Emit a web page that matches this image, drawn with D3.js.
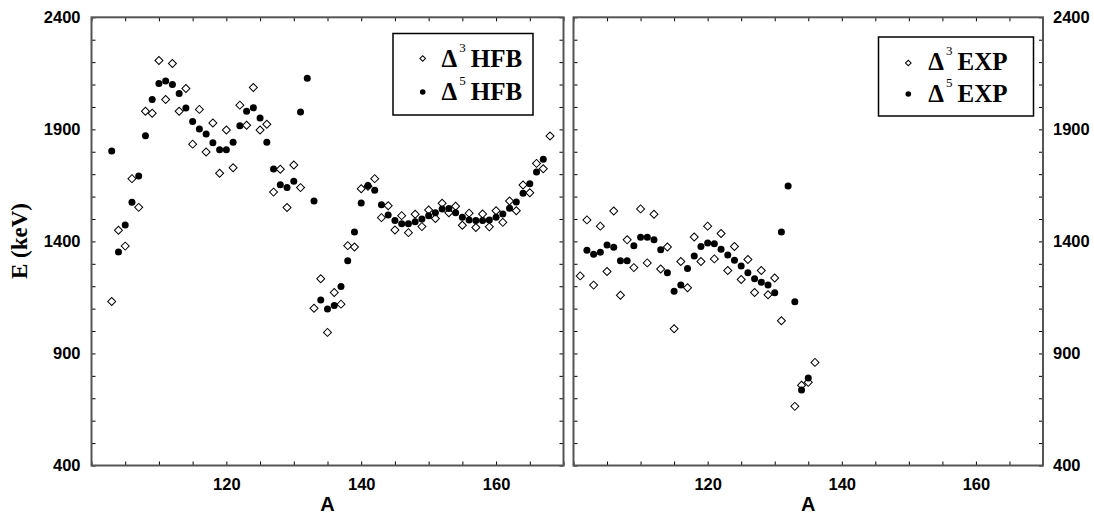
<!DOCTYPE html>
<html><head><meta charset="utf-8">
<script src="https://cdn.jsdelivr.net/npm/d3@7"></script>
<style>html,body{margin:0;padding:0;background:#fff;}svg{display:block;}</style>
</head><body>
<svg id="chart" width="1094" height="513"></svg>
<script>
// ---- data ----
const hfbD3A = [103,104,105,106,107,108,109,110,111,112,113,114,115,116,117,118,119,120,121,122,123,124,125,126,127,128,129,130,131,
  133,134,135,136,137,138,139,140,141,142,143,144,145,146,147,148,149,150,151,152,153,154,155,156,157,158,159,160,161,162,163,164,165,166,167,168];
const hfbD3E = [1132,1450,1379,1680,1552,1981,1972,2207,2033,2194,1981,2082,1834,1989,1799,1928,1704,1897,1729,2008,1918,2087,1897,1923,1620,1722,1551,1741,1640,
  1102,1233,994,1172,1120,1381,1375,1635,1646,1680,1506,1559,1451,1515,1439,1521,1466,1540,1502,1570,1528,1557,1472,1526,1462,1522,1465,1537,1485,1580,1537,1652,1617,1748,1724,1870];
const hfbD5A = d3.range(103, 168);
const hfbD5E = [1803,1353,1473,1575,1692,1871,2033,2105,2116,2100,2060,1995,1935,1902,1879,1840,1809,1809,1842,1916,1981,1996,1951,1842,1723,1653,1641,1668,1977,2128,
  1580,1139,1098,1114,1199,1314,1442,1571,1650,1628,1563,1518,1493,1479,1479,1488,1500,1515,1528,1545,1547,1528,1508,1496,1493,1493,1496,1508,1522,1548,1576,1615,1657,1710,1767];
const expD3A = [101,102,103,104,105,106,107,108,109,110,111,112,113,114,115,116,117,118,119,120,121,122,123,124,125,126,127,128,129,130,131,133,134,135,136];
const expD3E = [1246,1496,1205,1468,1266,1536,1160,1407,1283,1545,1304,1521,1277,1375,1010,1310,1193,1420,1310,1468,1322,1435,1270,1377,1230,1319,1172,1270,1162,1237,1046,664,758,771,860];
const expD5A = d3.range(102, 136);
const expD5E = [1361,1343,1352,1384,1374,1314,1314,1381,1419,1419,1407,1363,1260,1178,1206,1279,1335,1377,1393,1389,1365,1339,1316,1290,1260,1233,1218,1206,1171,1442,1647,1131,737,791];

const xDomain = [100, 170];
const yDomain = [400, 2400];
const xTicks = d3.range(100, 171, 5);
const xLabels = [120, 140, 160];
const yTicks = d3.range(400, 2401, 100);
const yLabels = [400, 900, 1400, 1900, 2400];
const legendLeft = ["HFB", "HFB"];
const legendRight = ["EXP", "EXP"];

// ---- layout ----
const svg = d3.select("#chart");
const yTop = 17.3, yBot = 465.5;
const panels = [
  {x0: 91.5, x1: 563.5, d3A: hfbD3A, d3E: hfbD3E, d5A: hfbD5A, d5E: hfbD5E, side: "left",
   leg: {x: 393, y: 33.5, w: 140, h: 81.5, mx: 422.7, r1: 58.5, r2: 92, tx: 441.5, b1: 66.7, b2: 100, txt: legendLeft}},
  {x0: 573.5, x1: 1043, d3A: expD3A, d3E: expD3E, d5A: expD5A, d5E: expD5E, side: "right",
   leg: {x: 878.5, y: 37, w: 155, h: 79, mx: 908.3, r1: 63, r2: 94, tx: 928.3, b1: 70, b2: 101.7, txt: legendRight}}
];
const y = d3.scaleLinear().domain(yDomain).range([yBot, yTop]);
const fmtX = d => xLabels.includes(d) ? d : "";
const fmtY = d => yLabels.includes(d) ? d : "";
const sansBold = "'Liberation Sans', Arial, sans-serif";
const serifBold = "'Liberation Serif', 'Times New Roman', serif";

panels.forEach(p => {
  const x = d3.scaleLinear().domain(xDomain).range([p.x0, p.x1]);
  const g = svg.append("g");

  const styleAxis = sel => {
    sel.select(".domain").remove();
    sel.selectAll(".tick line").attr("stroke", "#000").attr("stroke-width", 1);
    sel.selectAll("text").attr("font-family", sansBold).attr("font-weight", "bold")
      .attr("font-size", 16.5).attr("fill", "#000");
  };
  g.append("g").attr("transform", `translate(0,${yBot})`)
    .call(d3.axisBottom(x).tickValues(xTicks).tickFormat(fmtX).tickSizeInner(-4).tickSizeOuter(0).tickPadding(13))
    .call(styleAxis);
  g.append("g").attr("transform", `translate(0,${yTop})`)
    .call(d3.axisTop(x).tickValues(xTicks).tickFormat("").tickSizeInner(-4).tickSizeOuter(0))
    .call(styleAxis);
  g.append("g").attr("transform", `translate(${p.x0},0)`)
    .call(d3.axisLeft(y).tickValues(yTicks).tickFormat(p.side === "left" ? fmtY : "").tickSizeInner(-4).tickSizeOuter(0).tickPadding(11))
    .call(styleAxis);
  g.append("g").attr("transform", `translate(${p.x1},0)`)
    .call(d3.axisRight(y).tickValues(yTicks).tickFormat(p.side === "right" ? fmtY : "").tickSizeInner(-4).tickSizeOuter(0).tickPadding(10))
    .call(styleAxis);

  g.append("rect").attr("x", p.x0).attr("y", yTop).attr("width", p.x1 - p.x0).attr("height", yBot - yTop)
    .attr("fill", "none").attr("stroke", "#555").attr("stroke-width", 2);

  g.append("text").attr("x", (p.x0 + p.x1) / 2).attr("y", 510.5).attr("text-anchor", "middle")
    .attr("font-family", sansBold).attr("font-weight", "bold").attr("font-size", 20).text("A");

  const sq = d3.symbol().type(d3.symbolSquare).size(32)();
  g.append("g").selectAll("path").data(p.d3A.map((a, i) => [a, p.d3E[i]])).join("path")
    .attr("d", sq)
    .attr("transform", d => `translate(${x(d[0])},${y(d[1])}) rotate(45)`)
    .attr("fill", "#fff").attr("stroke", "#000").attr("stroke-width", 1);
  g.append("g").selectAll("circle").data(p.d5A.map((a, i) => [a, p.d5E[i]])).join("circle")
    .attr("cx", d => x(d[0])).attr("cy", d => y(d[1])).attr("r", 3.5).attr("fill", "#000");

  const L = p.leg;
  const lg = g.append("g");
  lg.append("rect").attr("x", L.x).attr("y", L.y).attr("width", L.w).attr("height", L.h)
    .attr("fill", "#fff").attr("stroke", "#000").attr("stroke-width", 1.5);
  lg.append("path").attr("d", d3.symbol().type(d3.symbolSquare).size(16)())
    .attr("transform", `translate(${L.mx},${L.r1}) rotate(45)`).attr("fill", "#fff").attr("stroke", "#000").attr("stroke-width", 1);
  lg.append("circle").attr("cx", L.mx).attr("cy", L.r2).attr("r", 2.8).attr("fill", "#000");
  [[L.b1, "3", L.txt[0]], [L.b2, "5", L.txt[1]]].forEach(([b, sup, lab]) => {
    const t = lg.append("text").attr("x", L.tx).attr("y", b)
      .attr("font-family", serifBold).attr("font-weight", "bold").attr("font-size", 25).attr("fill", "#000");
    t.append("tspan").text("\u0394");
    t.append("tspan").attr("font-size", 13).attr("font-weight", "normal").attr("dy", -15).attr("dx", 2).text(sup);
    t.append("tspan").attr("dy", 15).attr("dx", 5).text(lab);
  });
});

svg.append("text").attr("transform", "translate(27,241) rotate(-90)").attr("text-anchor", "middle")
  .attr("font-family", serifBold).attr("font-weight", "bold").attr("font-size", 23).text("E (keV)");
</script>
</body></html>
